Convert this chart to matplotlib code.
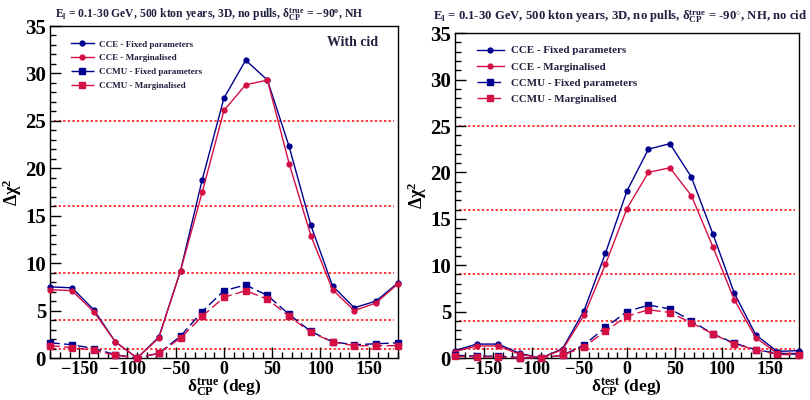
import numpy as np
import matplotlib
matplotlib.use("Agg")
import matplotlib.pyplot as plt
from matplotlib.ticker import MultipleLocator

plt.rcParams['font.family'] = ['Liberation Serif', 'DejaVu Serif']
plt.rcParams['font.weight'] = 'bold'
plt.rcParams['mathtext.fontset'] = 'custom'
plt.rcParams['mathtext.rm'] = 'Liberation Serif:bold'
plt.rcParams['mathtext.it'] = 'Liberation Serif:bold'
plt.rcParams['mathtext.bf'] = 'Liberation Serif:bold'
plt.rcParams['mathtext.default'] = 'rm'

delta = [-180, -157.5, -135, -112.5, -90, -67.5, -45, -22.5, 0,
         22.5, 45, 67.5, 90, 112.5, 135, 157.5, 180]

# left: with cid, x = delta_CP true
cce_fix_L = [7.5, 7.4, 5.1, 1.7, 0.0, 2.2, 9.2, 18.8, 27.4, 31.4, 29.3, 22.3, 14.0, 7.6, 5.3, 6.0, 7.9]
cce_mar_L = [7.2, 7.1, 4.9, 1.7, 0.0, 2.1, 9.2, 17.5, 26.1, 28.8, 29.3, 20.5, 12.9, 7.2, 5.0, 5.8, 7.8]
ccmu_fix_L = [1.6, 1.4, 1.0, 0.35, 0.0, 0.5, 2.3, 4.9, 7.1, 7.7, 6.6, 4.6, 2.8, 1.7, 1.4, 1.5, 1.6]
ccmu_mar_L = [1.3, 1.1, 0.8, 0.3, 0.0, 0.5, 2.1, 4.4, 6.4, 7.1, 6.2, 4.4, 2.7, 1.7, 1.3, 1.3, 1.3]

# right: no cid, x = delta_CP test
cce_fix_R = [0.8, 1.5, 1.5, 0.5, 0.0, 1.0, 5.1, 11.3, 18.0, 22.5, 23.1, 19.5, 13.4, 7.0, 2.5, 0.7, 0.8]
cce_mar_R = [0.7, 1.3, 1.3, 0.4, 0.0, 0.9, 4.6, 10.1, 16.1, 20.0, 20.5, 17.5, 12.0, 6.3, 2.2, 0.5, 0.5]
ccmu_fix_R = [0.3, 0.2, 0.2, 0.05, 0.0, 0.3, 1.4, 3.3, 5.0, 5.7, 5.3, 4.0, 2.6, 1.6, 0.9, 0.5, 0.4]
ccmu_mar_R = [0.2, 0.1, 0.1, 0.0, 0.0, 0.3, 1.2, 2.9, 4.5, 5.2, 4.9, 3.8, 2.6, 1.5, 0.9, 0.4, 0.3]

cl_levels = [1, 4, 9, 16, 25]
labels = ["CCE - Fixed parameters", "CCE - Marginalised",
          "CCMU - Fixed parameters", "CCMU - Marginalised"]

blue = "#00008f"
red = "#d40f44"

fig = plt.figure(figsize=(8.1, 4.0), dpi=100)
axL = fig.add_axes([0.062, 0.105, 0.429, 0.83])
axR = fig.add_axes([0.562, 0.105, 0.424, 0.812])


def draw(ax, data, xlabel, legsp, legfs, anchor):
    for lv in cl_levels:
        ax.plot([-176, 176], [lv, lv], color="red", ls=(0, (1.5, 1.5)), lw=1.1, zorder=1)
    styles = [(blue, "o", "-"), (red, "o", "-"), (blue, "s", (0, (7, 3))), (red, "s", (0, (7, 3)))]
    for y, (c, m, ls), lab in zip(data, styles, labels):
        ax.plot(delta, y, color=c, marker=m, ls=ls, lw=1.0, ms=3.5 if m == "o" else 3.8,
                label=lab, zorder=3, clip_on=False)
    ax.set_xlim(-180, 180)
    ax.set_ylim(0, 35)
    ax.xaxis.set_major_locator(MultipleLocator(50))
    ax.xaxis.set_minor_locator(MultipleLocator(10))
    ax.yaxis.set_major_locator(MultipleLocator(5))
    ax.yaxis.set_minor_locator(MultipleLocator(1))
    ax.tick_params(which="major", direction="in", length=8, width=1, top=False, right=False,
                   labelsize=15, pad=3)
    ax.tick_params(which="minor", direction="in", length=4, width=1, top=False, right=False)
    ax.tick_params(axis="x", labelsize=13, pad=2)
    for lab in ax.get_xticklabels() + ax.get_yticklabels():
        lab.set_fontweight("bold")
    ax.set_ylabel(r"$\Delta\chi^{2}$", fontsize=13, labelpad=2)
    ax.yaxis.set_label_coords(-0.075, 0.5)
    ax.set_xlabel(xlabel, fontsize=12.5, labelpad=-1, fontweight="bold")
    leg = ax.legend(loc="upper left", bbox_to_anchor=anchor, frameon=False,
                    fontsize=legfs, labelspacing=legsp, handlelength=2.5,
                    handletextpad=0.6, borderaxespad=0.0)
    for t in leg.get_texts():
        t.set_color("#202040")
    for sp in ax.spines.values():
        sp.set_linewidth(1.0)


draw(axL, [cce_fix_L, cce_mar_L, ccmu_fix_L, ccmu_mar_L],
     r"$\delta_{CP}^{true}$ (deg)", 0.62, 6.5, (0.05, 0.968))
draw(axR, [cce_fix_R, cce_mar_R, ccmu_fix_R, ccmu_mar_R],
     r"$\delta_{CP}^{test}$ (deg)", 0.6, 7.9, (0.05, 0.975))

axL.text(0.87, 0.95, "With cid", transform=axL.transAxes, ha="center", va="center",
         fontsize=10, fontweight="bold", color="#202040")

fig.text(0.258, 0.963, r"E$_{l}$ = 0.1-30 GeV, 500 kton years, 3D, no pulls, $\delta_{CP}^{true}$ = $-$90$^{o}$, NH",
         ha="center", va="center", fontsize=8.4, fontweight="bold", color="#202040")
fig.text(0.766, 0.958, r"E$_{l}$ = 0.1-30 GeV, 500 kton years, 3D, no pulls, $\delta_{CP}^{true}$ = -90$^{\circ}$, NH, no cid",
         ha="center", va="center", fontsize=9.2, fontweight="bold", color="#202040")

fig.savefig("out.png", dpi=100)
